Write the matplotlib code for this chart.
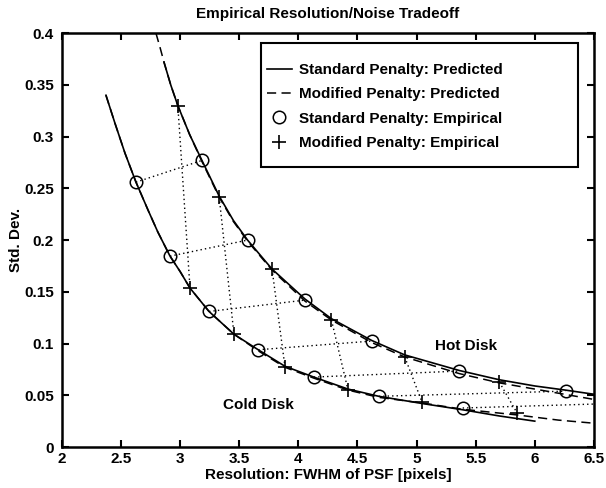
import matplotlib
matplotlib.use("Agg")
import matplotlib.pyplot as plt
from matplotlib.patches import Rectangle

plt.rcParams['font.family'] = ['Liberation Sans', 'DejaVu Sans']
plt.rcParams['font.weight'] = 'bold'

# Predicted curves
hot_std_x = [2.863, 2.92, 2.98, 3.08, 3.184, 3.33, 3.45, 3.57, 3.777, 4.056, 4.28, 4.62, 4.9, 5.36, 5.7, 6.0, 6.26, 6.5]
hot_std_y = [0.372, 0.350, 0.330, 0.302, 0.277, 0.2425, 0.219, 0.200, 0.172, 0.143, 0.124, 0.103, 0.089, 0.074, 0.065, 0.059, 0.055, 0.051]
hot_mod_x = [2.795, 2.83, 2.863, 2.92, 2.98, 3.08, 3.184, 3.33, 3.45, 3.57, 3.777, 4.056, 4.28, 4.62, 4.9, 5.36, 5.7, 6.0, 6.5]
hot_mod_y = [0.400, 0.386, 0.372, 0.350, 0.330, 0.302, 0.276, 0.2415, 0.218, 0.199, 0.171, 0.141, 0.1227, 0.101, 0.087, 0.071, 0.062, 0.056, 0.046]
cold_std_x = [2.372, 2.448, 2.533, 2.626, 2.728, 2.81, 2.914, 3.0, 3.083, 3.244, 3.455, 3.66, 3.887, 4.13, 4.42, 4.68, 5.05, 5.39, 5.7, 6.0]
cold_std_y = [0.340, 0.313, 0.284, 0.256, 0.229, 0.208, 0.1845, 0.1695, 0.1536, 0.131, 0.109, 0.094, 0.078, 0.0676, 0.056, 0.049, 0.042, 0.036, 0.030, 0.025]
cold_mod_x = [2.372, 2.448, 2.533, 2.626, 2.728, 2.81, 2.914, 3.0, 3.083, 3.244, 3.455, 3.66, 3.887, 4.13, 4.42, 4.68, 5.05, 5.39, 5.85, 6.2, 6.5]
cold_mod_y = [0.340, 0.313, 0.284, 0.256, 0.229, 0.208, 0.1845, 0.1695, 0.1536, 0.131, 0.109, 0.093, 0.077, 0.0666, 0.055, 0.048, 0.0425, 0.0365, 0.031, 0.026, 0.023]

# Empirical points: standard penalty (circles)
cold_circ_x = [2.626, 2.914, 3.244, 3.66, 4.13, 4.68, 5.39]
cold_circ_y = [0.256, 0.1845, 0.131, 0.094, 0.0676, 0.049, 0.0377]
hot_circ_x = [3.184, 3.57, 4.056, 4.62, 5.36, 6.26, 7.4]
hot_circ_y = [0.277, 0.200, 0.142, 0.1024, 0.0734, 0.054, 0.0446]

# Empirical points: modified penalty (pluses)
hot_plus_x = [2.98, 3.33, 3.777, 4.28, 4.90, 5.70]
hot_plus_y = [0.330, 0.2415, 0.172, 0.1227, 0.087, 0.0628]
cold_plus_x = [3.083, 3.455, 3.887, 4.42, 5.046, 5.85]
cold_plus_y = [0.1536, 0.109, 0.077, 0.055, 0.0435, 0.0329]

x_ticks = [2, 2.5, 3, 3.5, 4, 4.5, 5, 5.5, 6, 6.5]
x_ticklabels = ['2', '2.5', '3', '3.5', '4', '4.5', '5', '5.5', '6', '6.5']
y_ticks = [0, 0.05, 0.1, 0.15, 0.2, 0.25, 0.3, 0.35, 0.4]
y_ticklabels = ['0', '0.05', '0.1', '0.15', '0.2', '0.25', '0.3', '0.35', '0.4']

fig = plt.figure(figsize=(6.06, 4.88), dpi=100)
ax = fig.add_axes([0.1023, 0.084, 0.8777, 0.848])

dot = (0, (1, 2.2))
for x0, y0, x1, y1 in zip(cold_circ_x, cold_circ_y, hot_circ_x, hot_circ_y):
    ax.plot([x0, x1], [y0, y1], color='black', ls=dot, lw=1.0)
for x0, y0, x1, y1 in zip(hot_plus_x, hot_plus_y, cold_plus_x, cold_plus_y):
    ax.plot([x0, x1], [y0, y1], color='black', ls=dot, lw=1.0)

dash = (0, (6, 3.5))
l1, = ax.plot(hot_std_x, hot_std_y, color='black', lw=1.2, label='Standard Penalty: Predicted')
ax.plot(cold_std_x, cold_std_y, color='black', lw=1.2)
l2, = ax.plot(hot_mod_x, hot_mod_y, color='black', lw=1.1, ls=dash, label='Modified Penalty: Predicted')
ax.plot(cold_mod_x, cold_mod_y, color='black', lw=1.1, ls=dash)

l3, = ax.plot(cold_circ_x + hot_circ_x, cold_circ_y + hot_circ_y, ls='none', marker='o', ms=9,
              mfc='none', mec='black', mew=1.1, label='Standard Penalty: Empirical')
l4, = ax.plot(hot_plus_x + cold_plus_x, hot_plus_y + cold_plus_y, ls='none', marker='+', ms=10,
              mec='black', mew=1.2, label='Modified Penalty: Empirical')

ax.set_xlim(2, 6.5)
ax.set_ylim(0, 0.4)
ax.set_xticks(x_ticks)
ax.set_xticklabels(x_ticklabels)
ax.set_yticks(y_ticks)
ax.set_yticklabels(y_ticklabels)
ax.tick_params(direction='in', top=True, right=True, length=5, width=1.5, labelsize=11)
ax.tick_params(axis='x', pad=3.5)
ax.tick_params(axis='y', pad=6)
for s in ax.spines.values():
    s.set_linewidth(1.8)

ax.set_xlabel('Resolution: FWHM of PSF [pixels]', fontsize=11, fontweight='bold', labelpad=1.5)
ax.set_ylabel('Std. Dev.', fontsize=11, fontweight='bold', labelpad=1)
ax.set_title('Empirical Resolution/Noise Tradeoff', fontsize=11, fontweight='bold', pad=11)

ax.text(5.42, 0.0976, 'Hot Disk', fontsize=11, fontweight='bold', ha='center', va='center')
ax.text(3.66, 0.0406, 'Cold Disk', fontsize=11, fontweight='bold', ha='center', va='center')

frame = Rectangle((0.374, 0.676), 0.596, 0.300, transform=ax.transAxes, facecolor='white',
                  edgecolor='black', lw=1.5, zorder=5)
ax.add_patch(frame)
leg = ax.legend(handles=[l1, l2, l3, l4], loc='upper left', bbox_to_anchor=(0.3853, 0.9275),
                fontsize=11, frameon=False, handlelength=1.63, borderpad=0, borderaxespad=0,
                labelspacing=0.67, handletextpad=0.46)
leg.set_zorder(6)

fig.savefig('out.png', dpi=100)
